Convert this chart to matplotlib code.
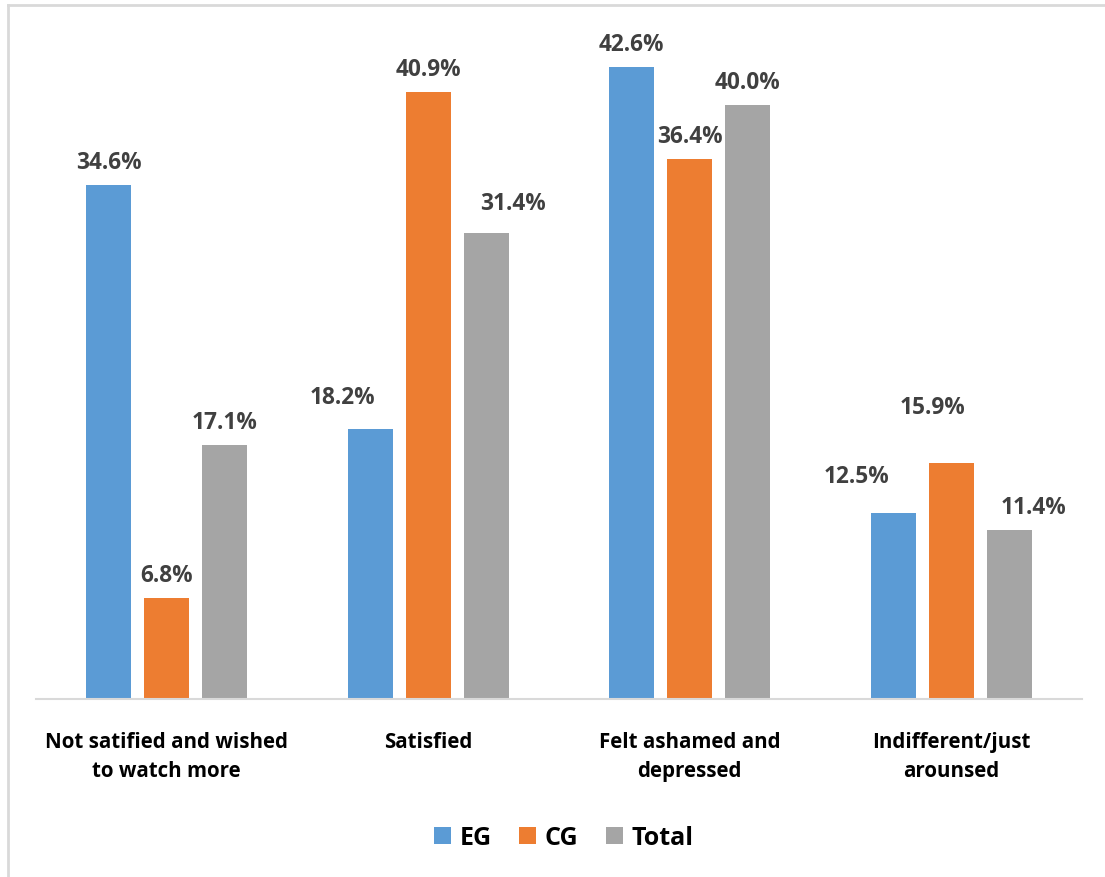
import matplotlib
matplotlib.use("Agg")
import matplotlib.pyplot as plt
import numpy as np
from matplotlib.lines import Line2D

categories = ["Not satified and wished\nto watch more", "Satisfied",
              "Felt ashamed and\ndepressed", "Indifferent/just\narounsed"]
series_names = ["EG", "CG", "Total"]
eg = [34.6, 18.2, 42.6, 12.5]
cg = [6.8, 40.9, 36.4, 15.9]
total = [17.1, 31.4, 40.0, 11.4]
colors = ["#5B9BD5", "#ED7D31", "#A5A5A5"]

# manual label nudges (pixels, dx, extra dy) as in the original chart
label_nudges = [
    [(0, 0), (-28, 9), (0, 0), (-37, 14)],
    [(0, 0), (0, 0), (0, 0), (-19, 33)],
    [(0, 0), (27, 7), (0, 0), (24, 0)],
]

plt.rcParams['font.family'] = ['Open Sans', 'DejaVu Sans']

W, H = 1105, 878
fig = plt.figure(figsize=(W/100, H/100), dpi=100)
ax = fig.add_axes([36/W, (H-700)/H, (1082-36)/W, (700-32)/H])

x = np.arange(len(categories))
width = 0.172
step = 0.222
for i, (vals, name, c) in enumerate(zip([eg, cg, total], series_names, colors)):
    pos = x + (i-1)*step
    ax.bar(pos, vals, width, color=c, label=name, zorder=2)
    for p, v, (dx, dy) in zip(pos, vals, label_nudges[i]):
        ax.annotate(f"{v:.1f}%", (p, v), xytext=(dx, 17 + dy), textcoords="offset pixels",
                    ha="center", va="baseline", fontsize=16.3, fontweight="bold",
                    color="#404040")

ax.set_xlim(-0.5, len(categories)-0.5)
ax.set_ylim(0, 45)
ax.set_yticks([])
ax.set_xticks(x)
ax.set_xticklabels(categories, fontsize=14.8, fontweight="bold", color="black",
                   linespacing=1.5)
ax.tick_params(axis='x', length=0, pad=23)
for s in ["top", "right", "left"]:
    ax.spines[s].set_visible(False)
ax.spines["bottom"].set_color("#D9D9D9")
ax.spines["bottom"].set_linewidth(1.5)

fig.legend(loc="center", bbox_to_anchor=(563.5/W, (H-839)/H), ncol=3,
           frameon=False, prop={'size': 18, 'weight': 'bold'},
           handlelength=0.68, handleheight=0.68, columnspacing=1.1,
           handletextpad=0.35)

# figure frame (left and top edges visible)
fig.add_artist(Line2D([8/W, 8/W], [0, (H-6)/H], color="#D9D9D9", lw=2))
fig.add_artist(Line2D([8/W, 1], [(H-6)/H, (H-6)/H], color="#D9D9D9", lw=2))

fig.savefig("out.png", dpi=100)
